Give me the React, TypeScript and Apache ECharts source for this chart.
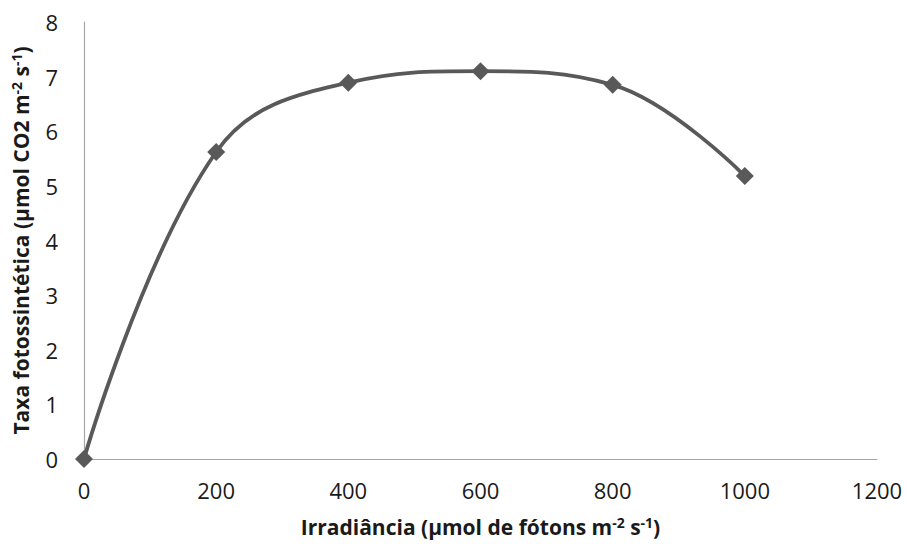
import React, { useEffect, useRef } from "react";
import * as echarts from "echarts";

const irradiance = [0, 200, 400, 600, 800, 1000];
const rate = [0, 5.62, 6.89, 7.1, 6.85, 5.18];
const xTitle = "Irradiância (µmol de fótons m{sup|-2} s{sup|-1})";
const yTitle = "Taxa fotossintética (µmol CO2 m{sup|-2} s{sup|-1})";

export default function App() {
  const ref = useRef<HTMLDivElement>(null);
  useEffect(() => {
    const chart = echarts.init(ref.current!, null, { renderer: "svg" });
    const font = "'Open Sans', 'Noto Sans', sans-serif";
    const nameStyle = {
      fontFamily: font,
      fontSize: 21,
      fontWeight: "bold",
      color: "#1a1a1a",
      rich: {
        sup: {
          fontFamily: font,
          fontSize: 14,
          fontWeight: "bold",
          color: "#1a1a1a",
          verticalAlign: "bottom",
          padding: [0, 0, 9, 0],
        },
      },
    };
    chart.setOption({
      animation: false,
      backgroundColor: "#ffffff",
      grid: {
        left: 84,
        right: 30,
        top: 22,
        bottom: 85,
        containLabel: false,
        outerBoundsMode: "none",
      },
      xAxis: {
        type: "value",
        min: 0,
        max: 1200,
        interval: 200,
        name: xTitle,
        nameLocation: "middle",
        nameGap: 56,
        nameTextStyle: nameStyle,
        axisLine: { show: true, lineStyle: { color: "#a6a6a6", width: 1.2 } },
        axisTick: { show: false },
        splitLine: { show: false },
        axisLabel: {
          fontFamily: font,
          fontSize: 22,
          color: "#1a1a1a",
          margin: 20,
          formatter: (v: number) => String(v),
        },
      },
      yAxis: {
        type: "value",
        min: 0,
        max: 8,
        interval: 1,
        name: yTitle,
        nameLocation: "middle",
        nameGap: 52,
        nameTextStyle: nameStyle,
        axisLine: { show: true, lineStyle: { color: "#a6a6a6", width: 1.2 } },
        axisTick: { show: false },
        splitLine: { show: false },
        axisLabel: {
          fontFamily: font,
          fontSize: 22,
          color: "#1a1a1a",
          margin: 26,
          formatter: (v: number) => String(v),
        },
      },
      series: [
        {
          type: "line",
          data: irradiance.map((x, i) => [x, rate[i]]),
          smooth: 0.4,
          symbol: "diamond",
          symbolSize: 18,
          lineStyle: { color: "#595959", width: 3.8 },
          itemStyle: { color: "#595959" },
        },
      ],
    });
    return () => chart.dispose();
  }, []);
  return (
    <div
      ref={ref}
      style={{ position: "fixed", left: 0, top: 0, width: 907, height: 544 }}
    />
  );
}
